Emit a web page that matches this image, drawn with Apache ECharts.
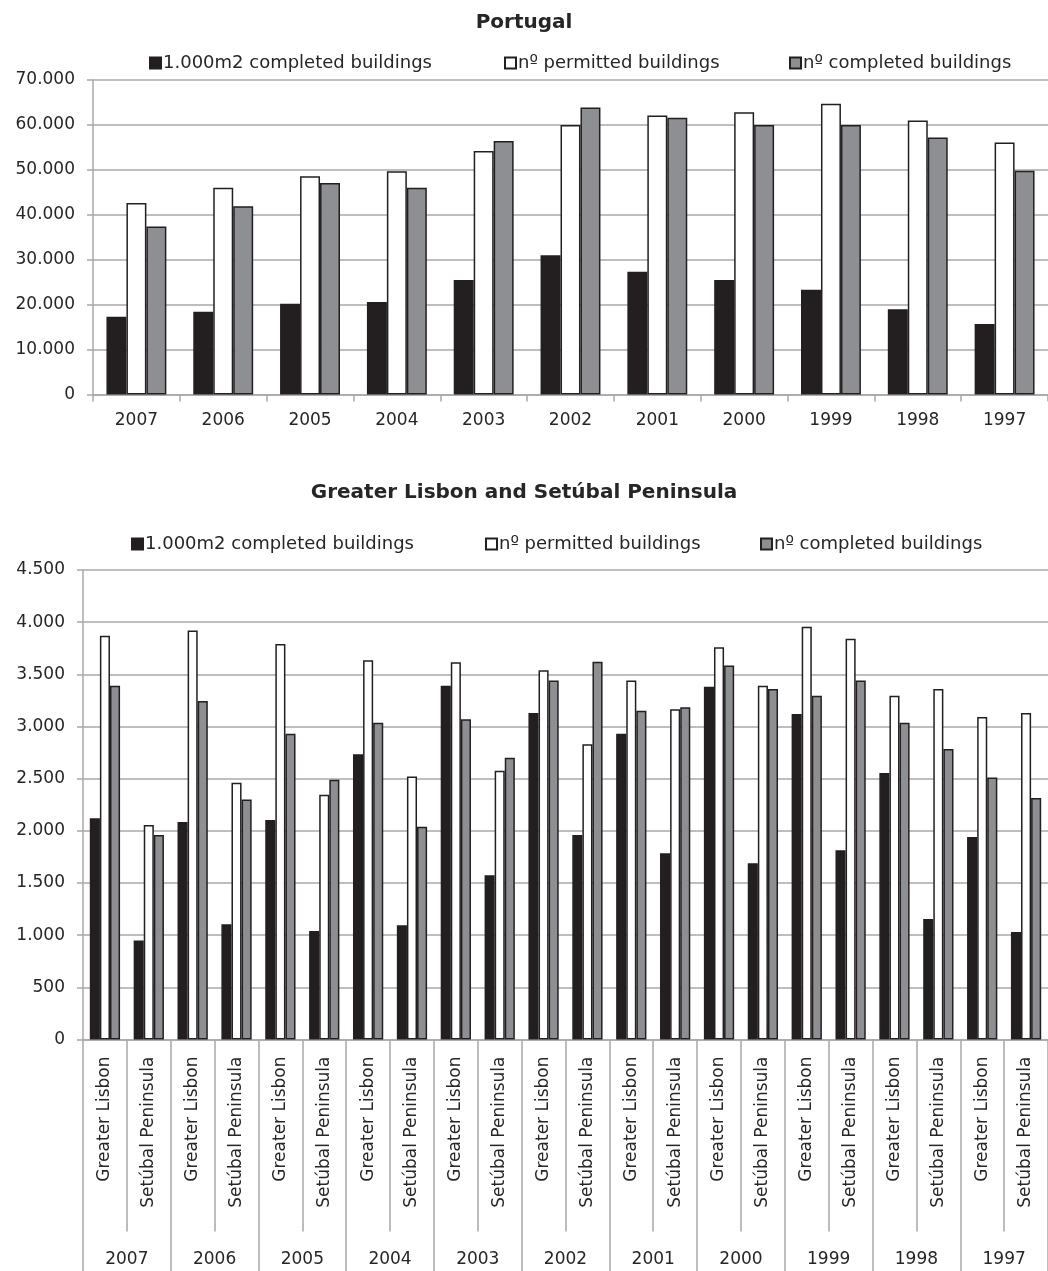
<!DOCTYPE html>
<html>
<head>
<meta charset="utf-8">
<title>Buildings – Portugal / Greater Lisbon and Setúbal Peninsula</title>
<script src="https://cdn.jsdelivr.net/npm/echarts@6/dist/echarts.min.js"></script>
<style>
  html, body { margin: 0; padding: 0; background: #ffffff; }
  #chart { width: 1048px; height: 1271px; }
</style>
</head>
<body>
<div id="chart"></div>
<script>
// Years shown on both charts (most recent first)
const years = ['2007', '2006', '2005', '2004', '2003', '2002', '2001', '2000', '1999', '1998', '1997'];
const regions = ['Greater Lisbon', 'Setúbal Peninsula'];

const seriesNames = ['1.000m2 completed buildings', 'nº permitted buildings', 'nº completed buildings'];

// Portugal
const ptArea      = [17300, 18400, 20200, 20600, 25500, 31000, 27300, 25500, 23300, 19000, 15700];
const ptPermitted = [42600, 46000, 48600, 49700, 54200, 60000, 62100, 62800, 64700, 61000, 56100];
const ptCompleted = [37400, 41900, 47100, 46000, 56400, 63900, 61600, 60000, 60000, 57200, 49800];

// Greater Lisbon / Setúbal Peninsula, pairs per year
const lsArea      = [2120, 950, 2085, 1105, 2105, 1040, 2735, 1095, 3390, 1575, 3130, 1960, 2930, 1785, 3380, 1690, 3120, 1815, 2555, 1155, 1940, 1030];
const lsPermitted = [3870, 2055, 3920, 2460, 3790, 2345, 3635, 2520, 3615, 2575, 3540, 2830, 3440, 3165, 3760, 3390, 3955, 3840, 3295, 3360, 3090, 3130];
const lsCompleted = [3390, 1960, 3245, 2300, 2930, 2490, 3035, 2040, 3070, 2700, 3440, 3620, 3150, 3185, 3585, 3360, 3295, 3440, 3035, 2785, 2510, 2315];

// Tick values of the two value axes
const ptTicks = { min: 0, max: 70000, interval: 10000 };
const lsTicks = { min: 0, max: 4500, interval: 500 };

const regionCats = [];
years.forEach(() => regions.forEach(r => regionCats.push(r)));

const FONT = 'DejaVu Sans';
const TXT = '#262626';
const GRID_COL = '#a8a8a8';
const INK = '#231f20';
const fills = ['#231f20', '#ffffff', '#8e8f93'];

function dotThousands(v) {
  return String(v).replace(/\B(?=(\d{3})+(?!\d))/g, '.');
}

function valueAxis(gridIndex, t) {
  return {
    type: 'value', gridIndex: gridIndex,
    min: t.min, max: t.max, interval: t.interval,
    axisLine: { show: true, lineStyle: { color: GRID_COL, width: 1.5 } },
    axisTick: { show: true, length: 6, lineStyle: { color: GRID_COL, width: 1.5 } },
    splitLine: { show: true, lineStyle: { color: GRID_COL, width: 1.5 } },
    axisLabel: { formatter: dotThousands, color: TXT, fontFamily: FONT, fontSize: 17, margin: 18 }
  };
}

function barSeries(name, i, xi, yi, data) {
  return {
    name: name, type: 'bar', xAxisIndex: xi, yAxisIndex: yi, data: data,
    barGap: '0%', barCategoryGap: '31%',
    itemStyle: { color: fills[i], borderColor: INK, borderWidth: 1.5 },
    emphasis: { disabled: true },
    animation: false
  };
}

// one legend entry per component so each key sits at its own place
function legendItem(name, top, left) {
  return {
    top: top, left: left,
    itemWidth: 11, itemHeight: 11, icon: 'rect',
    textStyle: { color: TXT, fontFamily: FONT, fontSize: 18, padding: [0, 0, 0, -3] },
    data: [name]
  };
}

const option = {
  backgroundColor: '#ffffff',
  animation: false,
  title: [
    { text: 'Portugal', left: 'center', top: 8,
      textStyle: { fontFamily: FONT, fontWeight: 'bold', fontSize: 20, color: TXT } },
    { text: 'Greater Lisbon and Setúbal Peninsula', left: 'center', top: 478,
      textStyle: { fontFamily: FONT, fontWeight: 'bold', fontSize: 20, color: TXT } }
  ],
  legend: [
    legendItem(seriesNames[0], 49, 144),
    legendItem(seriesNames[1], 49, 499),
    legendItem(seriesNames[2], 49, 784),
    legendItem(seriesNames[0], 530, 126),
    legendItem(seriesNames[1], 530, 480),
    legendItem(seriesNames[2], 530, 755)
  ],
  grid: [
    { left: 93, top: 80, width: 964, height: 314.5 },
    { left: 83, top: 570, width: 979, height: 469.5 }
  ],
  xAxis: [
    { type: 'category', gridIndex: 0, data: years,
      axisLine: { lineStyle: { color: GRID_COL, width: 1.5 } },
      axisTick: { show: true, interval: 0, length: 7, lineStyle: { color: GRID_COL, width: 1.5 } },
      axisLabel: { color: TXT, fontFamily: FONT, fontSize: 17, margin: 18 } },
    { type: 'category', gridIndex: 1, data: regionCats, position: 'bottom',
      axisLine: { lineStyle: { color: GRID_COL, width: 1.5 } },
      axisTick: { show: true, interval: 0, length: 192, lineStyle: { color: GRID_COL, width: 1.5 } },
      axisLabel: { color: TXT, fontFamily: FONT, fontSize: 17, rotate: 90, margin: 17, interval: 0 } },
    { type: 'category', gridIndex: 1, data: years, position: 'bottom',
      axisLine: { show: false },
      axisTick: { show: true, interval: 0, length: 235, lineStyle: { color: GRID_COL, width: 1.5 } },
      axisLabel: { color: TXT, fontFamily: FONT, fontSize: 17, margin: 212, interval: 0 } }
  ],
  yAxis: [ valueAxis(0, ptTicks), valueAxis(1, lsTicks) ],
  series: [
    barSeries(seriesNames[0], 0, 0, 0, ptArea),
    barSeries(seriesNames[1], 1, 0, 0, ptPermitted),
    barSeries(seriesNames[2], 2, 0, 0, ptCompleted),
    barSeries(seriesNames[0], 0, 1, 1, lsArea),
    barSeries(seriesNames[1], 1, 1, 1, lsPermitted),
    barSeries(seriesNames[2], 2, 1, 1, lsCompleted)
  ]
};

const chart = echarts.init(document.getElementById('chart'), null, { renderer: 'canvas' });
chart.setOption(option);
</script>
</body>
</html>
